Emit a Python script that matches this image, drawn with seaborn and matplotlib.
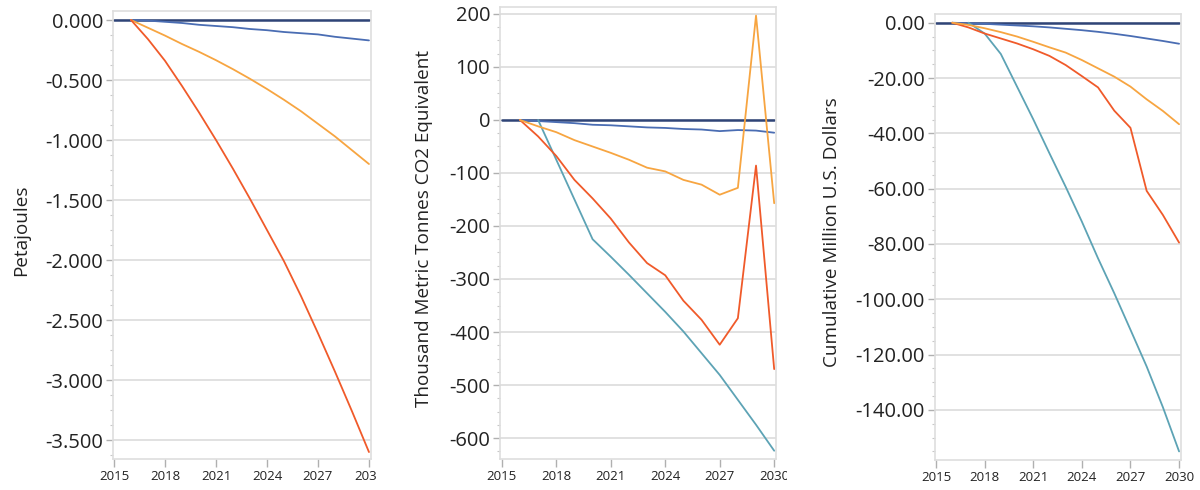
import numpy as np
import pandas as pd
import matplotlib
matplotlib.use("Agg")
import matplotlib.pyplot as plt
from matplotlib.ticker import FixedLocator, AutoMinorLocator, FormatStrFormatter
from matplotlib.transforms import Bbox, TransformedBbox
import seaborn as sns

# Years on the x axis
years = list(range(2015, 2031))
nan = np.nan

# Panel 1 - Petajoules
energy_base = [0.0] * 16
energy_blue = [nan, 0.0, -0.005, -0.015, -0.025, -0.04, -0.05, -0.06, -0.075,
               -0.085, -0.10, -0.11, -0.12, -0.14, -0.155, -0.17]
energy_orange = [nan, 0.0, -0.065, -0.13, -0.20, -0.265, -0.335, -0.41, -0.49,
                 -0.575, -0.665, -0.76, -0.865, -0.97, -1.085, -1.20]
energy_red = [nan, 0.0, -0.16, -0.34, -0.55, -0.77, -1.00, -1.24, -1.49,
              -1.75, -2.01, -2.30, -2.61, -2.93, -3.26, -3.60]

# Panel 2 - Thousand Metric Tonnes CO2 Equivalent
co2_base = [0.0] * 16
co2_blue = [nan, 0, -2, -4, -6, -9, -10, -12, -14, -15, -17, -18, -21, -19, -20, -24]
co2_orange = [nan, 0, -12, -23, -38, -50, -62, -75, -90, -97, -113, -122, -141, -128, 197, -157]
co2_red = [nan, 0, -31, -68, -113, -148, -186, -231, -270, -293, -341, -377, -424, -374, -86, -470]
co2_teal = [nan, nan, 0, -75, -150, -225, -258, -292, -327, -362, -399, -440, -481, -528, -575, -624]

# Panel 3 - Cumulative Million U.S. Dollars
cost_base = [0.0] * 16
cost_blue = [nan, 0.0, -0.2, -0.4, -0.7, -1.0, -1.3, -1.7, -2.2, -2.7, -3.3, -4.0, -4.8, -5.7, -6.6, -7.6]
cost_orange = [nan, 0.0, -0.8, -2.0, -3.4, -5.0, -6.9, -8.9, -10.8, -13.5, -16.5, -19.5, -23.1, -27.7, -31.9, -36.7]
cost_red = [nan, 0.0, -1.7, -3.9, -5.7, -7.5, -9.6, -12.0, -15.3, -19.3, -23.4, -31.8, -38.0, -60.8, -69.5, -79.5]
cost_teal = [nan, nan, 0.0, -3.9, -11.3, -23.1, -34.9, -47.2, -59.3, -71.9, -85.2, -97.8, -111.0, -124.3, -139.0, -155.0]

y_labels = ["Petajoules", "Thousand Metric Tonnes CO2 Equivalent", "Cumulative Million U.S. Dollars"]
y_ticks = [
    [0, -0.5, -1.0, -1.5, -2.0, -2.5, -3.0, -3.5],
    [200, 100, 0, -100, -200, -300, -400, -500, -600],
    [0, -20, -40, -60, -80, -100, -120, -140],
]
x_ticks = [2015, 2018, 2021, 2024, 2027, 2030]

palette = {
    "Baseline": "#2f4477",
    "Efficiency": "#4a6db3",
    "Moderate": "#f7a541",
    "Aggressive": "#f05a2a",
    "Maximum": "#5da3b5",
}


def long_frame(series):
    """ Turn a dict of named lists into a long table, dropping empty years """
    rows = []
    for name, values in series.items():
        for yr, v in zip(years, values):
            if not np.isnan(v):
                rows.append({"year": yr, "value": v, "scenario": name})
    return pd.DataFrame(rows)


frames = [
    long_frame({"Baseline": energy_base, "Efficiency": energy_blue,
                "Moderate": energy_orange, "Aggressive": energy_red}),
    long_frame({"Baseline": co2_base, "Efficiency": co2_blue, "Maximum": co2_teal,
                "Aggressive": co2_red, "Moderate": co2_orange}),
    long_frame({"Baseline": cost_base, "Efficiency": cost_blue, "Maximum": cost_teal,
                "Aggressive": cost_red, "Moderate": cost_orange}),
]

sns.set_theme(style="white")
plt.rcParams["font.family"] = ["Open Sans", "DejaVu Sans"]

fig = plt.figure(figsize=(12, 4.9), dpi=100)

# axes boxes in figure fractions: left, bottom, width, height
boxes = [
    [113 / 1200, 1 - 459 / 490, 258 / 1200, 448 / 490],
    [500 / 1200, 1 - 459 / 490, 276 / 1200, 451.7 / 490],
    [934.7 / 1200, 1 - 460 / 490, 246 / 1200, 446 / 490],
]
ylims = [(-3.658, 0.075), (-639.6, 212.6), (-158.1, 3.15)]
xlims = [(2014.94, 2030.12), (2014.9, 2030.1), (2014.92, 2030.1)]
fmts = ["%.3f", "%.0f", "%.2f"]
label_x = [-0.322, -0.243, -0.381]
clip_right = [377, 787, 1200]

axes = []
for i in range(3):
    ax = fig.add_axes(boxes[i])
    df = frames[i]
    sns.lineplot(data=df, x="year", y="value", hue="scenario", palette=palette,
                 linewidth=1.3, legend=False, ax=ax, estimator=None)
    # thicker baseline
    ax.lines[0].set_linewidth(1.8)

    ax.set_xlim(*xlims[i])
    ax.set_ylim(*ylims[i])
    ax.xaxis.set_major_locator(FixedLocator(x_ticks))
    ax.yaxis.set_major_locator(FixedLocator(y_ticks[i]))
    ax.yaxis.set_minor_locator(AutoMinorLocator(4))
    ax.yaxis.set_major_formatter(FormatStrFormatter(fmts[i]))

    ax.grid(axis="y", which="major", color="#dcdcdc", linewidth=1.2)
    ax.set_axisbelow(True)
    for sp in ax.spines.values():
        sp.set_color("#dedede")
        sp.set_linewidth(1.2)

    ax.tick_params(axis="y", which="major", length=5, width=1, color="#b0b0b0",
                   labelsize=14.5, labelcolor="#222222", pad=2, left=True)
    ax.tick_params(axis="y", which="minor", length=2, width=0.8, color="#c8c8c8", left=True)
    ax.tick_params(axis="x", which="major", length=6, width=1, color="#b0b0b0",
                   labelsize=9.5, labelcolor="#222222", pad=2, bottom=True)

    ax.set_xlabel("")
    ax.set_ylabel(y_labels[i], fontsize=13.6, color="#222222")
    ax.yaxis.set_label_coords(label_x[i], 0.51)
    axes.append(ax)

fig.canvas.draw()
# clip the last year label at the panel edge like the original
for i, ax in enumerate(axes):
    clip = TransformedBbox(Bbox.from_extents(0, 0, clip_right[i] / 1200, 1), fig.transFigure)
    for lab in ax.get_xticklabels():
        lab.set_clip_on(True)
        lab.set_clip_box(clip)

fig.savefig("out.png", dpi=100)
plt.close(fig)
